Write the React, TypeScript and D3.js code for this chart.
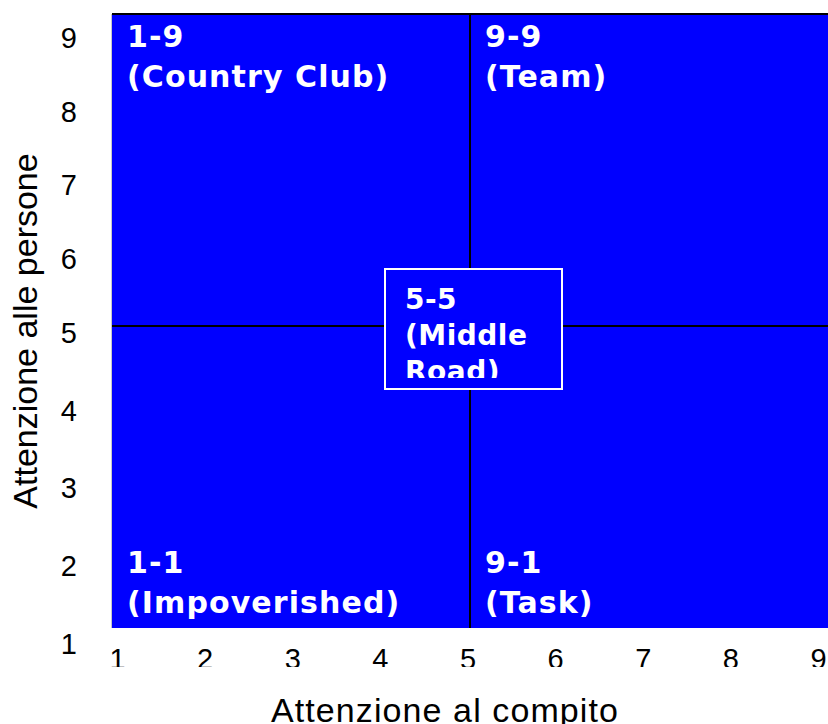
import React, { useEffect, useRef } from "react";
import { axisBottom, axisLeft, scaleLinear, select, Selection } from "d3";

const WIDTH = 828;
const HEIGHT = 724;
const BLUE = "#0000ff";
const AXIS_FONT = "'Liberation Sans', Arial, sans-serif";
const LABEL_FONT = "'DejaVu Sans', Verdana, sans-serif";

const X_TICKS = [1, 2, 3, 4, 5, 6, 7, 8, 9];
const Y_TICKS = [1, 2, 3, 4, 5, 6, 7, 8, 9];
const X_TITLE = "Attenzione al compito";
const Y_TITLE = "Attenzione alle persone";

// quadrant labels, anchored at the corner of their cell (x = left edge, y = top or bottom edge)
const QUADRANT_CODES = ["1-9", "9-9", "1-1", "9-1"];
const QUADRANT_NAMES = ["(Country Club)", "(Team)", "(Impoverished)", "(Task)"];
const QUADRANT_X = [1, 5, 1, 5];
const QUADRANT_Y = [9, 9, 1, 1];

const CENTER_LINES = ["5-5", "(Middle", "Road)"];
const CENTER_X = 5;
const CENTER_Y = 5;

type G = Selection<SVGGElement, unknown, null, undefined>;

const App = () => {
    const svgRef = useRef<SVGSVGElement>(null);

    useEffect(() => {
        const svg = select(svgRef.current);
        svg.selectAll("*").remove();
        const g: G = svg.append("g");

        const xScale = scaleLinear().domain([1, 9]).range([112, 828]);
        const yScale = scaleLinear().domain([1, 5, 9]).range([628, 326, 14]);
        // tick labels sit a little off the plot edges in the original
        const xLabelScale = scaleLinear().domain([1, 9]).range([117, 818]);
        const yLabelScale = scaleLinear().domain([1, 5, 9]).range([643, 332, 37]);

        const defs = svg.append("defs");
        defs.append("clipPath")
            .attr("id", "xlabels-clip")
            .append("rect")
            .attr("x", 0)
            .attr("y", 600)
            .attr("width", WIDTH)
            .attr("height", 67);

        drawPlot(g, xScale, yScale);
        drawAxes(g, xLabelScale, yLabelScale);
        drawQuadrants(g, xScale, yScale);
        drawCenter(g, defs, xScale, yScale);
    }, []);

    return (
        <svg
            ref={svgRef}
            width={WIDTH}
            height={HEIGHT}
            style={{ position: "absolute", left: 0, top: 0, background: "#fff" }}
        />
    );
};

const drawPlot = (g: G, xScale: any, yScale: any) => {
    const x0 = xScale(1), x1 = xScale(9);
    const y0 = yScale(9), y1 = yScale(1);
    g.append("rect")
        .attr("x", x0)
        .attr("y", y0)
        .attr("width", x1 - x0)
        .attr("height", y1 - y0)
        .attr("fill", BLUE);
    g.append("line")
        .attr("x1", x0 - 0.5).attr("x2", x0 - 0.5)
        .attr("y1", y0).attr("y2", y1)
        .attr("stroke", "#c8c8c8").attr("stroke-width", 1);
    g.append("line")
        .attr("x1", x0).attr("x2", x1)
        .attr("y1", y0).attr("y2", y0)
        .attr("stroke", "#000").attr("stroke-width", 2);
    g.append("line")
        .attr("x1", xScale(5)).attr("x2", xScale(5))
        .attr("y1", y0).attr("y2", y1)
        .attr("stroke", "#000").attr("stroke-width", 2);
    g.append("line")
        .attr("x1", x0).attr("x2", x1)
        .attr("y1", yScale(5)).attr("y2", yScale(5))
        .attr("stroke", "#000").attr("stroke-width", 2);
};

const drawAxes = (g: G, xLabelScale: any, yLabelScale: any) => {
    const xAxis = g.append("g")
        .attr("clip-path", "url(#xlabels-clip)")
        .append("g")
        .attr("transform", "translate(0,669)")
        .call(axisBottom(xLabelScale).tickValues(X_TICKS).tickSize(0).tickPadding(0).tickFormat((d: any) => String(d)));
    styleAxis(xAxis);
    xAxis.selectAll("text").attr("y", 0).attr("dy", 0);

    const yAxis = g.append("g")
        .attr("transform", "translate(77,0)")
        .call(axisLeft(yLabelScale).tickValues(Y_TICKS).tickSize(0).tickPadding(0).tickFormat((d: any) => String(d)));
    styleAxis(yAxis);
    yAxis.selectAll("text").attr("x", 0).attr("dy", "0.36em");

    g.append("text")
        .attr("x", 445)
        .attr("y", 722)
        .attr("text-anchor", "middle")
        .attr("font-family", AXIS_FONT)
        .attr("font-size", 34)
        .attr("letter-spacing", 1.1)
        .attr("fill", "#000")
        .text(X_TITLE);

    g.append("text")
        .attr("transform", "translate(37,331) rotate(-90)")
        .attr("text-anchor", "middle")
        .attr("font-family", AXIS_FONT)
        .attr("font-size", 34)
        .attr("fill", "#000")
        .text(Y_TITLE);
};

const styleAxis = (axis: any) => {
    axis.select(".domain").remove();
    axis.selectAll("text")
        .attr("fill", "#000")
        .attr("font-family", AXIS_FONT)
        .attr("font-size", 29);
};

const drawQuadrants = (g: G, xScale: any, yScale: any) => {
    QUADRANT_CODES.forEach((code, i) => {
        const x = xScale(QUADRANT_X[i]) + 15;
        const top = QUADRANT_Y[i] === 9;
        const first = top ? yScale(QUADRANT_Y[i]) + 33 : yScale(QUADRANT_Y[i]) - 55;
        const t = g.append("text")
            .attr("font-family", LABEL_FONT)
            .attr("font-weight", "bold")
            .attr("font-size", 30)
            .attr("letter-spacing", 1.1)
            .attr("fill", "#fff");
        t.append("tspan").attr("x", x).attr("y", first).text(code);
        t.append("tspan").attr("x", x).attr("y", first + 40).text(QUADRANT_NAMES[i]);
    });
};

const drawCenter = (g: G, defs: any, xScale: any, yScale: any) => {
    const bx = xScale(CENTER_X) - 85;
    const by = yScale(CENTER_Y) - 57;
    const bw = 177;
    const bh = 120;

    defs.append("clipPath")
        .attr("id", "center-clip")
        .append("rect")
        .attr("x", bx)
        .attr("y", by)
        .attr("width", bw)
        .attr("height", bh - 11);

    g.append("rect")
        .attr("x", bx)
        .attr("y", by)
        .attr("width", bw)
        .attr("height", bh)
        .attr("fill", BLUE)
        .attr("stroke", "#fff")
        .attr("stroke-width", 2);

    const t = g.append("text")
        .attr("clip-path", "url(#center-clip)")
        .attr("font-family", LABEL_FONT)
        .attr("font-weight", "bold")
        .attr("font-size", 28)
        .attr("letter-spacing", 0.5)
        .attr("fill", "#fff");
    CENTER_LINES.forEach((line, i) => {
        t.append("tspan")
            .attr("x", bx + 20)
            .attr("y", by + 40 + i * 36)
            .text(line);
    });
};

export default App;
